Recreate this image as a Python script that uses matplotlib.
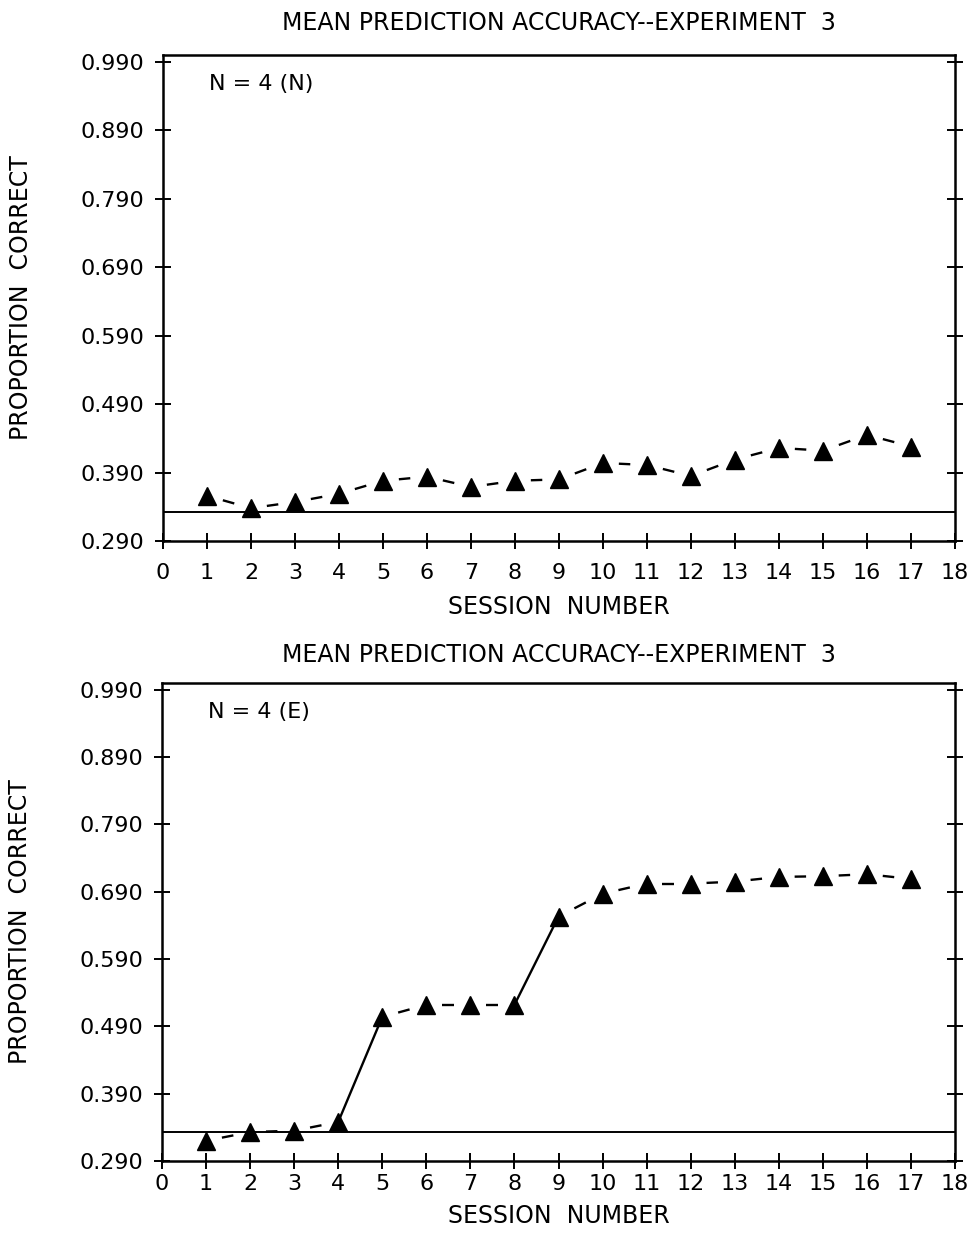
import matplotlib
matplotlib.use("Agg")
import matplotlib.pyplot as plt

plt.rcParams['font.family'] = ['DejaVu Sans']

sessions = list(range(1, 18))
acc_N = [0.356, 0.338, 0.347, 0.359, 0.378, 0.384, 0.369, 0.378, 0.380,
         0.404, 0.401, 0.385, 0.409, 0.426, 0.422, 0.445, 0.428]
acc_E = [0.320, 0.333, 0.335, 0.348, 0.504, 0.522, 0.522, 0.522, 0.653,
         0.687, 0.702, 0.702, 0.705, 0.712, 0.713, 0.716, 0.709]
chance = 0.333
yticks = [0.29, 0.39, 0.49, 0.59, 0.69, 0.79, 0.89, 0.99]
ytick_labels = ['0.290', '0.390', '0.490', '0.590', '0.690', '0.790', '0.890', '0.990']
xticks = list(range(0, 19))
title = 'MEAN PREDICTION ACCURACY--EXPERIMENT  3'
panel_labels = ['N = 4 (N)', 'N = 4 (E)']

W, H = 976, 1234
fig = plt.figure(figsize=(W / 100, H / 100), dpi=100)
ax1 = fig.add_axes([163 / W, 1 - 541 / H, (955 - 163) / W, 486 / H])
ax2 = fig.add_axes([162 / W, 1 - 1161 / H, (955 - 162) / W, 478 / H])


def draw(ax, xs, ys, label, xlab_y, title_pad, text_y, xpad):
    # connecting segments
    for i in range(len(xs) - 1):
        x0, x1 = xs[i], xs[i + 1]
        y0, y1 = ys[i], ys[i + 1]
        if abs(y1 - y0) > 0.08:
            ax.plot([x0, x1], [y0, y1], color='black', lw=1.7, zorder=2)
        else:
            t0, t1 = 0.36, 0.62
            ax.plot([x0 + t0 * (x1 - x0), x0 + t1 * (x1 - x0)],
                    [y0 + t0 * (y1 - y0), y0 + t1 * (y1 - y0)],
                    color='black', lw=1.7, zorder=2, solid_capstyle='butt')
    ax.plot(xs, ys, linestyle='none', marker='^', ms=13, color='black', zorder=3)
    ax.axhline(chance, color='black', lw=1.4, zorder=1)

    ax.set_xlim(0, 18)
    ax.set_ylim(0.29, 1.0)
    ax.set_xticks(xticks)
    ax.set_xticklabels([str(v) for v in xticks])
    ax.set_yticks(yticks)
    ax.set_yticklabels(ytick_labels)
    ax.tick_params(axis='both', direction='inout', length=11, width=1.4,
                   labelsize=16, color='black')
    ax.tick_params(axis='y', right=True, left=True, pad=8)
    ax.tick_params(axis='x', top=False, bottom=True, pad=xpad)
    for s in ax.spines.values():
        s.set_linewidth(1.8)

    ax.set_xlabel('SESSION  NUMBER', fontsize=17)
    ax.xaxis.set_label_coords(0.5, xlab_y)
    ax.set_ylabel('PROPORTION  CORRECT', fontsize=17)
    ax.yaxis.set_label_coords(-0.164, 0.5)
    ax.set_title(title, fontsize=17, pad=title_pad)
    ax.text(0.058, text_y, label, transform=ax.transAxes, fontsize=16,
            ha='left', va='center')


draw(ax1, sessions, acc_N, panel_labels[0], -0.112, 18, 0.94, 10)
draw(ax2, sessions, acc_E, panel_labels[1], -0.09, 15, 0.939, 4)

fig.savefig('out.png', dpi=100)
